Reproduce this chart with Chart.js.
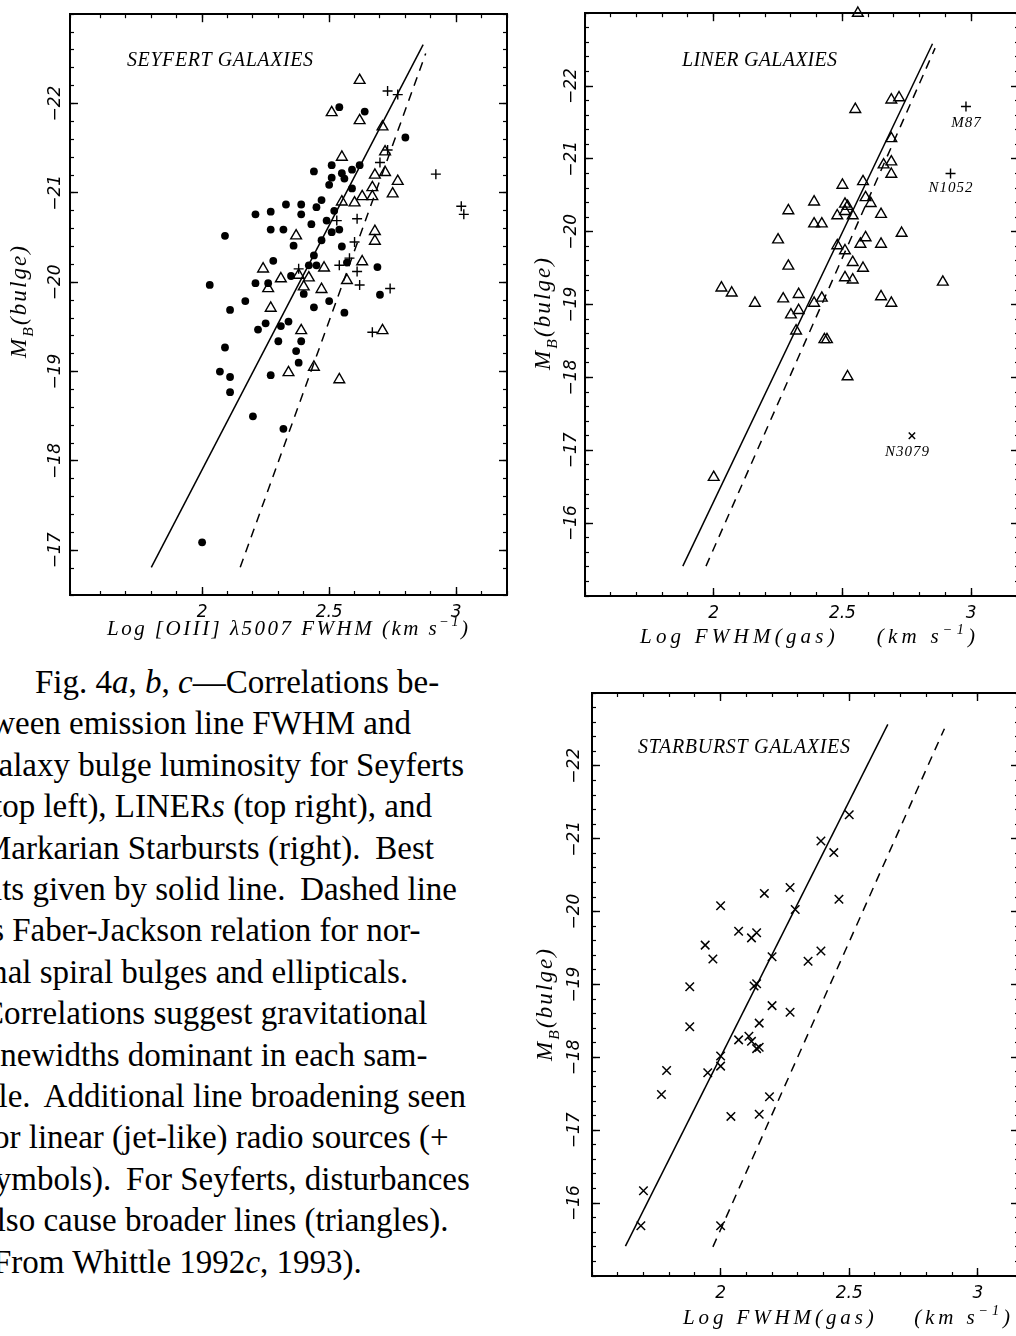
<!DOCTYPE html>
<html>
<head>
<meta charset="utf-8">
<script src="https://cdn.jsdelivr.net/npm/chart.js@4.4.1/dist/chart.umd.min.js"></script>
<style>
  html, body { margin: 0; padding: 0; background: #fff; width: 1016px; height: 1336px; overflow: hidden; }
  canvas { position: absolute; }
  #caption {
    position: absolute; left: -18px; top: 662px;
    font: 33px "Liberation Serif", serif; line-height: 41.4px;
    white-space: pre; color: #000; text-indent: 53px;
  }
</style>
</head>
<body>
<canvas id="seyfert" width="530" height="660" style="left:0;top:0"></canvas>
<canvas id="liner" width="510" height="660" style="left:520px;top:0"></canvas>
<canvas id="starburst" width="510" height="666" style="left:520px;top:670px"></canvas>
<div id="caption">Fig. 4<i>a</i>, <i>b</i>, <i>c</i>—Correlations be-
tween emission line FWHM and
galaxy bulge luminosity for Seyferts
(top left), LINER<i>s</i> (top right), and
Markarian Starbursts (right).&#8201; Best
fits given by solid line.&#8201; Dashed line
is Faber-Jackson relation for nor-
mal spiral bulges and ellipticals.
Correlations suggest gravitational
linewidths dominant in each sam-
ple.&#8201; Additional line broadening seen
for linear (jet-like) radio sources (+
symbols).&#8201; For Seyferts, disturbances
also cause broader lines (triangles).
(From Whittle 1992<i>c</i>, 1993).</div>

<script>
// ---------- axis ticks ----------
const fwhmTicks = [2, 2.5, 3];
const magTicksSeyfert = [-22, -21, -20, -19, -18, -17];
const magTicksGas = [-22, -21, -20, -19, -18, -17, -16];

// ---------- Seyfert panel: [log FWHM, M_B] ----------
const seyfertDots = [
  [2.54,-21.96],[2.64,-21.91],[2.80,-21.62],[2.44,-21.24],[2.51,-21.31],[2.55,-21.22],
  [2.59,-21.26],[2.62,-21.31],[2.51,-21.17],[2.56,-21.16],[2.50,-21.09],[2.59,-21.05],
  [2.21,-20.76],[2.27,-20.79],[2.33,-20.87],[2.39,-20.87],[2.39,-20.76],[2.45,-20.84],
  [2.47,-20.92],[2.52,-20.80],[2.09,-20.52],[2.27,-20.59],[2.32,-20.59],[2.43,-20.65],
  [2.49,-20.69],[2.54,-20.59],[2.51,-20.56],[2.36,-20.41],[2.47,-20.47],[2.55,-20.40],
  [2.44,-20.30],[2.28,-20.24],[2.42,-20.19],[2.45,-20.19],[2.57,-20.22],[2.69,-20.17],
  [2.35,-20.07],[2.21,-19.99],[2.26,-19.99],[2.03,-19.97],[2.40,-19.87],[2.50,-19.79],
  [2.70,-19.86],[2.17,-19.79],[2.11,-19.69],[2.44,-19.72],[2.56,-19.66],[2.25,-19.54],
  [2.22,-19.47],[2.31,-19.51],[2.34,-19.56],[2.09,-19.27],[2.30,-19.34],[2.39,-19.34],
  [2.37,-19.23],[2.38,-19.10],[2.07,-19.00],[2.11,-18.94],[2.27,-18.96],[2.11,-18.77],
  [2.20,-18.50],[2.32,-18.36],[2.00,-17.09]
];
const seyfertTriangles = [
  [2.62,-22.26],[2.51,-21.90],[2.62,-21.81],[2.71,-21.74],[2.72,-21.46],[2.55,-21.40],
  [2.68,-21.20],[2.72,-21.23],[2.77,-21.13],[2.67,-21.06],[2.63,-20.96],[2.67,-20.96],
  [2.75,-20.99],[2.55,-20.90],[2.60,-20.89],[2.68,-20.57],[2.68,-20.46],[2.37,-20.52],
  [2.63,-20.23],[2.24,-20.15],[2.31,-20.04],[2.38,-20.08],[2.42,-20.05],[2.48,-20.16],
  [2.57,-20.02],[2.26,-19.93],[2.40,-19.95],[2.47,-19.92],[2.27,-19.71],[2.39,-19.46],
  [2.71,-19.46],[2.34,-18.99],[2.44,-19.05],[2.54,-18.91]
];
const seyfertPlus = [
  [2.73,-22.14],[2.77,-22.10],[2.70,-21.34],[2.73,-21.48],[2.92,-21.21],[3.02,-20.85],
  [3.03,-20.76],[2.53,-20.69],[2.61,-20.71],[2.60,-20.45],[2.58,-20.27],[2.54,-20.19],
  [2.38,-20.15],[2.61,-20.12],[2.62,-19.97],[2.74,-19.93],[2.67,-19.44]
];
const seyfertFit = [[1.80,-16.81],[2.87,-22.66]];
const seyfertFJ = [[2.15,-16.81],[2.88,-22.56]];

// ---------- LINER panel ----------
const linerTriangles = [
  [2.56,-23.00],[2.69,-21.81],[2.72,-21.84],[2.55,-21.68],[2.69,-21.28],[2.66,-20.92],
  [2.69,-20.96],[2.69,-20.79],[2.50,-20.64],[2.58,-20.69],[2.59,-20.47],[2.61,-20.39],
  [2.39,-20.41],[2.51,-20.38],[2.52,-20.35],[2.51,-20.28],[2.48,-20.22],[2.54,-20.22],
  [2.65,-20.24],[2.29,-20.29],[2.39,-20.11],[2.42,-20.11],[2.73,-19.98],[2.25,-19.89],
  [2.59,-19.92],[2.57,-19.83],[2.65,-19.83],[2.48,-19.81],[2.51,-19.74],[2.54,-19.58],
  [2.58,-19.50],[2.29,-19.53],[2.51,-19.37],[2.54,-19.34],[2.89,-19.31],[2.03,-19.23],
  [2.07,-19.16],[2.16,-19.02],[2.27,-19.08],[2.33,-19.14],[2.39,-19.02],[2.42,-19.09],
  [2.65,-19.11],[2.69,-19.02],[2.30,-18.86],[2.33,-18.92],[2.32,-18.64],[2.43,-18.52],
  [2.44,-18.52],[2.52,-18.01],[2.00,-16.63]
];
const linerPlus = [[2.98,-21.72],[2.92,-20.80]];
const linerPlusNames = ['M87', 'N1052'];
const linerCross = [[2.77,-17.20]];
const linerCrossNames = ['N3079'];
const linerFit = [[1.88,-15.41],[2.85,-22.58]];
const linerFJ = [[1.97,-15.41],[2.86,-22.52]];

// ---------- Starburst panel ----------
const starburstCross = [
  [2.50,-21.33],[2.39,-20.97],[2.44,-20.81],[2.27,-20.33],[2.17,-20.25],[2.46,-20.17],
  [2.00,-20.08],[2.29,-20.03],[2.07,-19.73],[2.12,-19.64],[2.14,-19.71],[1.94,-19.54],
  [1.97,-19.35],[2.39,-19.46],[2.34,-19.32],[2.20,-19.38],[1.88,-18.97],[2.13,-18.98],
  [2.14,-19.01],[2.20,-18.71],[2.27,-18.62],[2.15,-18.47],[1.88,-18.42],[2.07,-18.24],
  [2.11,-18.29],[2.12,-18.22],[2.14,-18.12],[2.15,-18.14],[2.00,-18.02],[2.00,-17.88],
  [1.95,-17.79],[1.79,-17.82],[1.77,-17.49],[2.19,-17.46],[2.04,-17.19],[2.15,-17.22],
  [1.70,-16.17],[1.69,-15.69],[2.00,-15.69]
];
const starburstFit = [[1.63,-15.41],[2.65,-22.57]];
const starburstFJ = [[1.97,-15.40],[2.87,-22.51]];

const INK = '#000';
const toXY = arr => arr.map(([x, y]) => ({ x, y }));

// draws italic text made of segments (plain / sup / sub), optionally stretched to a width
function drawRich(ctx, it) {
  const fam = '"Liberation Serif", serif';
  const fontOf = sz => `italic ${sz}px ${fam}`;
  ctx.save();
  ctx.fillStyle = INK;
  ctx.textBaseline = 'alphabetic';
  ctx.textAlign = 'left';
  ctx.letterSpacing = '0px';
  const parts = it.segs.map(sg => {
    const sz = sg.s ? it.size * 0.68 : it.size;
    ctx.font = fontOf(sz);
    return { t: sg.t, s: sg.s, sz, w: ctx.measureText(sg.t).width, n: [...sg.t].length };
  });
  const natural = parts.reduce((a, p) => a + p.w, 0);
  const nChars = parts.reduce((a, p) => a + p.n, 0);
  let ls = it.ls || 0;
  if (it.width) ls = (it.width - natural) / Math.max(1, nChars - 1);
  const total = natural + ls * (nChars - 1);
  ctx.translate(it.x, it.y);
  if (it.rot) ctx.rotate(it.rot);
  let cx = it.align === 'center' ? -total / 2 : 0;
  parts.forEach(p => {
    ctx.font = fontOf(p.sz);
    ctx.letterSpacing = ls + 'px';
    const dy = p.s === 'sup' ? -it.size * 0.42 : p.s === 'sub' ? it.size * 0.3 : 0;
    ctx.fillText(p.t, cx, dy);
    cx += p.w + ls * p.n;
  });
  ctx.restore();
}

const figText = {
  id: 'figText',
  afterDraw(chart, args, opts) {
    const ctx = chart.ctx;
    (opts.items || []).forEach(it => drawRich(ctx, it));
    (opts.notes || []).forEach(n => {
      const px = chart.scales.x.getPixelForValue(n.at[0]);
      const py = chart.scales.y.getPixelForValue(n.at[1]);
      drawRich(ctx, { segs: [{ t: n.text }], x: px + (n.dx || 0), y: py + n.dy, size: 15, ls: 1, align: 'center' });
    });
  }
};

// boxed frame: labelled axes bottom/left, tick-only axes top/right, minor ticks everywhere
function frameScales(xMin, xMax, yMin, yMax, magTicks, box) {
  const major = { drawOnChartArea: false, drawTicks: true, tickLength: -8, tickWidth: 1.4, tickColor: INK };
  const minor = { drawOnChartArea: false, drawTicks: true, tickLength: -4, tickWidth: 1.2, tickColor: INK };
  const border = { display: true, color: INK, width: 2 };
  const noBorder = { display: false };
  const tickFont = { family: '"DejaVu Sans"', style: 'italic', size: 17 };
  const setX = s => { s.ticks = fwhmTicks.map(v => ({ value: v })); };
  const setY = s => { s.ticks = magTicks.map(v => ({ value: v })); };
  const flatH = s => { s.height = 0; };
  const flatW = s => { s.width = 0; };
  const xBase = { type: 'linear', axis: 'x', min: xMin, max: xMax };
  const yBase = { type: 'linear', axis: 'y', min: yMin, max: yMax, reverse: true };
  return {
    x: { ...xBase, position: 'bottom', weight: 1, grid: major, border, afterBuildTicks: setX,
         ticks: { font: tickFont, color: INK, padding: box.xPad, maxRotation: 0, autoSkip: false,
                  callback: v => String(v) },
         afterFit: s => { s.height = 40; } },
    xMinor: { ...xBase, position: 'bottom', weight: 0, grid: minor, border: noBorder,
              ticks: { display: false, stepSize: 0.1 }, afterFit: flatH },
    xTop: { ...xBase, position: 'top', weight: 1, grid: major, border, afterBuildTicks: setX,
            ticks: { display: false }, afterFit: flatH },
    xTopMinor: { ...xBase, position: 'top', weight: 0, grid: minor, border: noBorder,
                 ticks: { display: false, stepSize: 0.1 }, afterFit: flatH },
    y: { ...yBase, position: 'left', weight: 1, grid: major, border, afterBuildTicks: setY,
         ticks: { font: tickFont, color: INK, padding: box.yPad, crossAlign: 'center',
                  minRotation: 90, maxRotation: 90, autoSkip: false,
                  callback: v => '\u2212' + Math.abs(v) },
         afterFit: s => { s.width = box.yWidth; } },
    yMinor: { ...yBase, position: 'left', weight: 0, grid: minor, border: noBorder,
              ticks: { display: false, stepSize: 0.2 }, afterFit: flatW },
    yRight: { ...yBase, position: 'right', weight: 1, grid: major, border, afterBuildTicks: setY,
              ticks: { display: false }, afterFit: flatW },
    yRightMinor: { ...yBase, position: 'right', weight: 0, grid: minor, border: noBorder,
                   ticks: { display: false, stepSize: 0.2 }, afterFit: flatW }
  };
}

const dots = pts => ({ data: toXY(pts), pointStyle: 'circle', pointRadius: 3.9, backgroundColor: INK, borderWidth: 0, clip: false });
const triangles = pts => ({ data: toXY(pts), pointStyle: 'triangle', pointRadius: 6.2, backgroundColor: 'rgba(0,0,0,0)', borderColor: INK, borderWidth: 1.4, clip: false });
const pluses = pts => ({ data: toXY(pts), pointStyle: 'cross', pointRadius: 5, borderColor: INK, borderWidth: 1.4, clip: false });
const crosses = (pts, r) => ({ data: toXY(pts), pointStyle: 'crossRot', pointRadius: r, borderColor: INK, borderWidth: 1.5, clip: false });
const fitLine = (pts, dash) => ({ data: toXY(pts), showLine: true, pointRadius: 0, borderColor: INK, borderWidth: 1.5, borderDash: dash || [], clip: false });

function baseOptions(scales, padding, items, notes) {
  return {
    responsive: false, animation: false, events: [],
    layout: { padding },
    plugins: { legend: { display: false }, tooltip: { enabled: false }, figText: { items, notes: notes || [] } },
    scales
  };
}

const ylabel = (x, y) => ({ segs: [{ t: 'M' }, { t: 'B', s: 'sub' }, { t: '(bulge)' }], x, y, size: 23, width: 112, rot: -Math.PI / 2, align: 'center' });
const kms = [{ t: '(km s' }, { t: '\u22121', s: 'sup' }, { t: ')' }];

// ---- Seyfert ----
new Chart(document.getElementById('seyfert'), {
  type: 'scatter',
  data: { datasets: [
    dots(seyfertDots), triangles(seyfertTriangles), pluses(seyfertPlus),
    fitLine(seyfertFit), fitLine(seyfertFJ, [9, 7])
  ] },
  options: baseOptions(
    frameScales(1.48, 3.2, -23, -16.5, magTicksSeyfert, { xPad: 15, yPad: 4, yWidth: 70 }),
    { left: 0, top: 10.5, right: 23, bottom: 25 },
    [
      { segs: [{ t: 'SEYFERT GALAXIES' }], x: 127, y: 66, size: 20, width: 186 },
      { segs: [{ t: 'Log [OIII] \u03bb5007 FWHM ' }, ...kms], x: 107, y: 635, size: 21, width: 361 },
      ylabel(26, 302)
    ]
  ),
  plugins: [figText]
});

// ---- LINER ----
new Chart(document.getElementById('liner'), {
  type: 'scatter',
  data: { datasets: [
    triangles(linerTriangles), pluses(linerPlus), crosses(linerCross, 4.5),
    fitLine(linerFit), fitLine(linerFJ, [9, 7])
  ] },
  options: baseOptions(
    frameScales(1.5, 3.186, -23, -15, magTicksGas, { xPad: 15, yPad: 3, yWidth: 65 }),
    { left: 0, top: 13, right: 11, bottom: 24 },
    [
      { segs: [{ t: 'LINER GALAXIES' }], x: 162, y: 66, size: 20, width: 155 },
      { segs: [{ t: 'Log FWHM(gas)    ' }, ...kms], x: 120, y: 643, size: 21, width: 335 },
      ylabel(30, 314)
    ],
    [
      { text: linerPlusNames[0], at: linerPlus[0], dy: 21 },
      { text: linerPlusNames[1], at: linerPlus[1], dy: 19 },
      { text: linerCrossNames[0], at: linerCross[0], dx: -5, dy: 20 }
    ]
  ),
  plugins: [figText]
});

// ---- Starburst ----
new Chart(document.getElementById('starburst'), {
  type: 'scatter',
  data: { datasets: [
    crosses(starburstCross, 6), fitLine(starburstFit), fitLine(starburstFJ, [9, 7])
  ] },
  options: baseOptions(
    frameScales(1.5, 3.16, -23, -15, magTicksGas, { xPad: 15, yPad: 7, yWidth: 72 }),
    { left: 0, top: 23, right: 11, bottom: 20 },
    [
      { segs: [{ t: 'STARBURST GALAXIES' }], x: 118, y: 83, size: 20, width: 212 },
      { segs: [{ t: 'Log FWHM(gas)    ' }, ...kms], x: 163, y: 654, size: 21, width: 327 },
      ylabel(32, 335)
    ]
  ),
  plugins: [figText]
});
</script>
</body>
</html>
